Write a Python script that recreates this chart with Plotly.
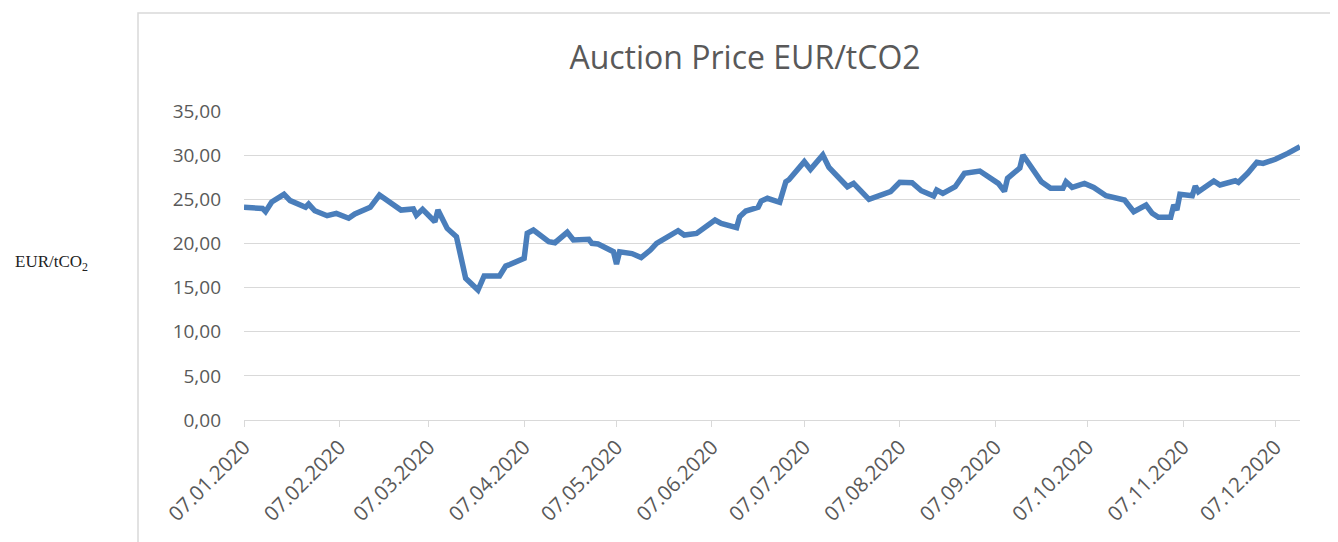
import plotly.graph_objects as go

dates = [
    "2020-01-07", "2020-01-13", "2020-01-14", "2020-01-16", "2020-01-20", "2020-01-22",
    "2020-01-27", "2020-01-28", "2020-01-30", "2020-02-03", "2020-02-06", "2020-02-10",
    "2020-02-12", "2020-02-17", "2020-02-20", "2020-02-24", "2020-02-27", "2020-03-02",
    "2020-03-03", "2020-03-05", "2020-03-09", "2020-03-10", "2020-03-13", "2020-03-16",
    "2020-03-19", "2020-03-23", "2020-03-25", "2020-03-30", "2020-04-01", "2020-04-02",
    "2020-04-07", "2020-04-08", "2020-04-10", "2020-04-15", "2020-04-17", "2020-04-21",
    "2020-04-23", "2020-04-28", "2020-04-29", "2020-05-01", "2020-05-06", "2020-05-07",
    "2020-05-08", "2020-05-12", "2020-05-15", "2020-05-18", "2020-05-20", "2020-05-27",
    "2020-05-29", "2020-06-02", "2020-06-05", "2020-06-08", "2020-06-10", "2020-06-15",
    "2020-06-16", "2020-06-18", "2020-06-22", "2020-06-23", "2020-06-25", "2020-06-29",
    "2020-07-01", "2020-07-02", "2020-07-07", "2020-07-09", "2020-07-13", "2020-07-15",
    "2020-07-21", "2020-07-23", "2020-07-28", "2020-08-04", "2020-08-07", "2020-08-11",
    "2020-08-14", "2020-08-18", "2020-08-19", "2020-08-21", "2020-08-25", "2020-08-28",
    "2020-09-02", "2020-09-08", "2020-09-10", "2020-09-11", "2020-09-15", "2020-09-16",
    "2020-09-22", "2020-09-25", "2020-09-29", "2020-09-30", "2020-10-02", "2020-10-06",
    "2020-10-09", "2020-10-13", "2020-10-19", "2020-10-22", "2020-10-26", "2020-10-28",
    "2020-10-30", "2020-11-03", "2020-11-04", "2020-11-05", "2020-11-06", "2020-11-10",
    "2020-11-11", "2020-11-12", "2020-11-17", "2020-11-19", "2020-11-24", "2020-11-25",
    "2020-11-28", "2020-12-01", "2020-12-03", "2020-12-07", "2020-12-11", "2020-12-15",
]
prices = [
    24.09, 23.97, 23.60, 24.70, 25.56, 24.85,
    24.10, 24.46, 23.70, 23.14, 23.40, 22.85,
    23.33, 24.09, 25.48, 24.60, 23.78, 23.90,
    23.20, 23.86, 22.46, 23.78, 21.70, 20.76,
    16.05, 14.72, 16.31, 16.31, 17.44, 17.56,
    18.31, 21.15, 21.52, 20.20, 20.08, 21.26,
    20.39, 20.46, 20.01, 19.93, 19.06, 17.67,
    19.06, 18.85, 18.40, 19.25, 20.00, 21.44,
    20.95, 21.14, 21.97, 22.65, 22.27, 21.78,
    23.03, 23.67, 24.09, 24.80, 25.11, 24.66,
    26.99, 27.22, 29.26, 28.39, 30.01, 28.60,
    26.42, 26.80, 25.00, 25.86, 26.92, 26.88,
    25.97, 25.37, 26.05, 25.67, 26.42, 27.94,
    28.20, 26.80, 25.90, 27.37, 28.55, 30.01,
    26.99, 26.24, 26.24, 26.99, 26.35, 26.80,
    26.35, 25.40, 24.92, 23.59, 24.35, 23.41,
    22.96, 22.96, 24.35, 23.78, 25.56, 25.40,
    26.50, 25.86, 27.07, 26.62, 27.10, 26.92,
    27.94, 29.19, 29.07, 29.53, 30.20, 30.96,
]

title_text = "Auction Price EUR/tCO2"
y_label = "EUR/tCO<sub>2</sub>"

# page has an 8px body margin; screen coords are compensated
OFF = 8
W, H = 1338 - OFF, 542 - OFF
L, R, T, B = 244 - OFF, 38, 111 - OFF, 122
pw, ph = W - L - R, H - T - B

def px(xs):
    return (xs - OFF - L) / pw

def py(ys):
    return (H - B - (ys - OFF)) / ph

fig = go.Figure()
fig.add_trace(go.Scatter(
    x=dates, y=prices, mode="lines",
    line=dict(color="#4a7ebb", width=5.5),
    hoverinfo="x+y", showlegend=False,
))

fig.update_layout(
    width=W, height=H,
    margin=dict(l=L, r=R, t=T, b=B),
    paper_bgcolor="white", plot_bgcolor="white",
    separators=",.",
    font=dict(family="Open Sans, sans-serif", color="#595959"),
    title=dict(text=title_text, x=px(745), xanchor="center", xref="paper",
               y=1 - (58 - OFF) / H, yanchor="middle",
               font=dict(size=32, color="#595959", family="Open Sans, sans-serif")),
    xaxis=dict(
        type="date", range=["2020-01-07", "2020-12-15"],
        tick0="2020-01-07", dtick="M1", tickformat="%d.%m.%Y",
        tickangle=-45, showgrid=False, showline=True, linecolor="#d9d9d9", linewidth=1,
        ticks="outside", ticklen=6, tickcolor="#d9d9d9",
        tickfont=dict(size=20.5, color="#595959", family="Open Sans, sans-serif"),
        zeroline=False,
    ),
    yaxis=dict(
        range=[0, 35], dtick=5, tick0=0, tickformat=".2f",
        showgrid=True, gridcolor="#d9d9d9", gridwidth=1, zeroline=False,
        showline=False, ticks="", ticklabelstandoff=22,
        tickfont=dict(size=19, color="#595959", family="Open Sans, sans-serif"),
    ),
    shapes=[dict(type="rect", xref="paper", yref="paper",
                 x0=px(138), x1=px(1400), y0=py(600), y1=py(13),
                 line=dict(color="#d9d9d9", width=1.5), fillcolor="rgba(0,0,0,0)",
                 layer="below")],
    annotations=[dict(text=y_label, xref="paper", yref="paper",
                      x=px(51), y=py(263), xanchor="center", yanchor="middle",
                      showarrow=False,
                      font=dict(family="Liberation Serif, serif", size=17, color="#222222"))],
)

fig.write_html("out.html")
